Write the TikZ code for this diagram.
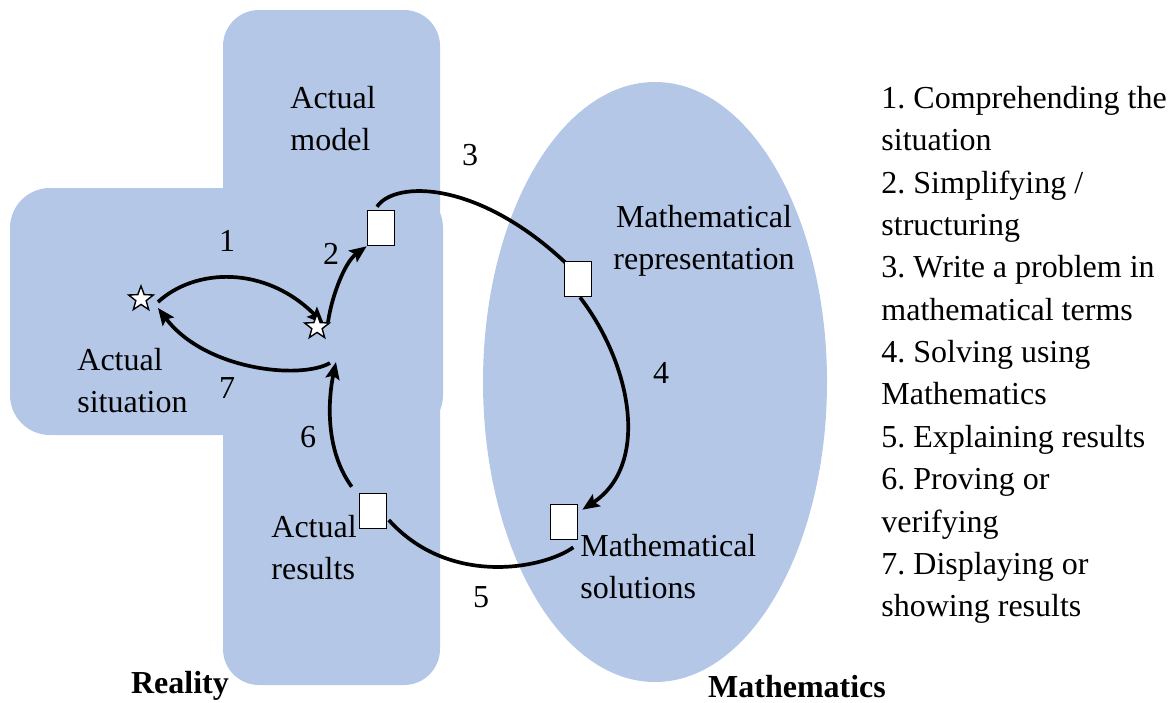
\documentclass[tikz,border=0pt]{standalone}
\usepackage{fontspec}
\setmainfont{Liberation Serif}
\usetikzlibrary{shapes.geometric,arrows.meta}
\pgfdeclarelayer{back}
\pgfdeclarelayer{conn}
\pgfsetlayers{back,conn,main}
\definecolor{region}{HTML}{B4C7E7}
\frenchspacing
\begin{document}
\begin{tikzpicture}[x=0.5pt,y=-0.5pt,
  txt/.style={font=\fontsize{16pt}{21.17pt}\selectfont, inner sep=0pt},
  boldtxt/.style={font=\fontsize{16pt}{21.17pt}\selectfont\bfseries, inner sep=0pt},
  box/.style={draw, fill=white, line width=0.8pt, minimum width=13.5pt, minimum height=17.5pt, inner sep=0pt},
  starnode/.style={star, star points=5, star point ratio=2.4, draw, fill=white, line width=0.7pt, minimum size=13pt, inner sep=0pt},
  conn/.style={line width=1.85pt},
  arr/.style={conn, -{Stealth[length=8.5pt,width=7pt,inset=1.5pt]}}]
\path[use as bounding box] (0,0) rectangle (1176,702);

\begin{pgfonlayer}{back}
\fill[region, rounded corners=18pt] (223,10) rectangle (440,685);
\fill[region, rounded corners=20pt] (10,188) rectangle (443,435);
\fill[region] (655,382) ellipse [x radius=86pt, y radius=150pt];
\end{pgfonlayer}

\node[starnode] (s1) at (141,299) {};
\node[starnode] (s2) at (317,327) {};
\node[box] (qA) at (381,228) {};
\node[box] (qB) at (578,279) {};
\node[box] (qC) at (373,511) {};
\node[box] (qD) at (564,522) {};
\coordinate (a6end) at (336,362);
\coordinate (a7start) at (330,363);

\node[txt, align=left, anchor=north west] (lmodel) at (290,86) {Actual\\model};
\node[txt, align=left, anchor=north west] (lsit) at (77,348) {Actual\\situation};
\node[txt, align=left, anchor=north west] (lres) at (271,515) {Actual\\results};
\node[txt, align=center, anchor=north] (lrep) at (704,205) {Mathematical\\representation};
\node[txt, align=left, anchor=north west] (lsol) at (580,534) {Mathematical\\solutions};

\node[txt] (n1) at (227,241) {1};
\node[txt] (n2) at (331,254) {2};
\node[txt] (n3) at (470,155) {3};
\node[txt] (n4) at (661,373) {4};
\node[txt] (n5) at (481,597) {5};
\node[txt] (n6) at (308,437) {6};
\node[txt] (n7) at (227,388) {7};

\node[boldtxt, anchor=base] (real) at (180,693) {Reality};
\node[boldtxt, anchor=base] (math) at (797,697) {Mathematics};

\node[txt, align=left, anchor=north west] (list) at (881,86) {1. Comprehending the\\situation\\2. Simplifying /\\structuring\\3. Write a problem in\\mathematical terms\\4. Solving using\\Mathematics\\5. Explaining results\\6. Proving or\\verifying\\7. Displaying or\\showing results};

\begin{pgfonlayer}{conn}
\draw[arr] ([shift={(17,3)}]s1.center) .. controls (195,268) and (265,265) .. ([shift={(7,-3)}]s2.center);
\draw[arr] ([shift={(11,-5)}]s2.center) .. controls (332,295) and (345,262) .. (qA.south west);
\draw[conn] ([shift={(-4,-3)}]qA.north) .. controls (395,180) and (480,180) .. ([shift={(6,6)}]qB.north west);
\draw[arr] ([shift={(2,0)}]qB.south) .. controls (632,365) and (650,465) .. ([shift={(4,6)}]qD.north east);
\draw[conn] ([shift={(-5,7)}]qD.south east) .. controls (545,568) and (450,588) .. ([shift={(1.5,9)}]qC.east);
\draw[arr] ([shift={(-7,-6)}]qC.north west) .. controls (325,450) and (328,400) .. (a6end);
\draw[arr] (a7start) .. controls (300,380) and (205,370) .. ([shift={(17,9)}]s1.center);
\end{pgfonlayer}
\end{tikzpicture}
\end{document}
